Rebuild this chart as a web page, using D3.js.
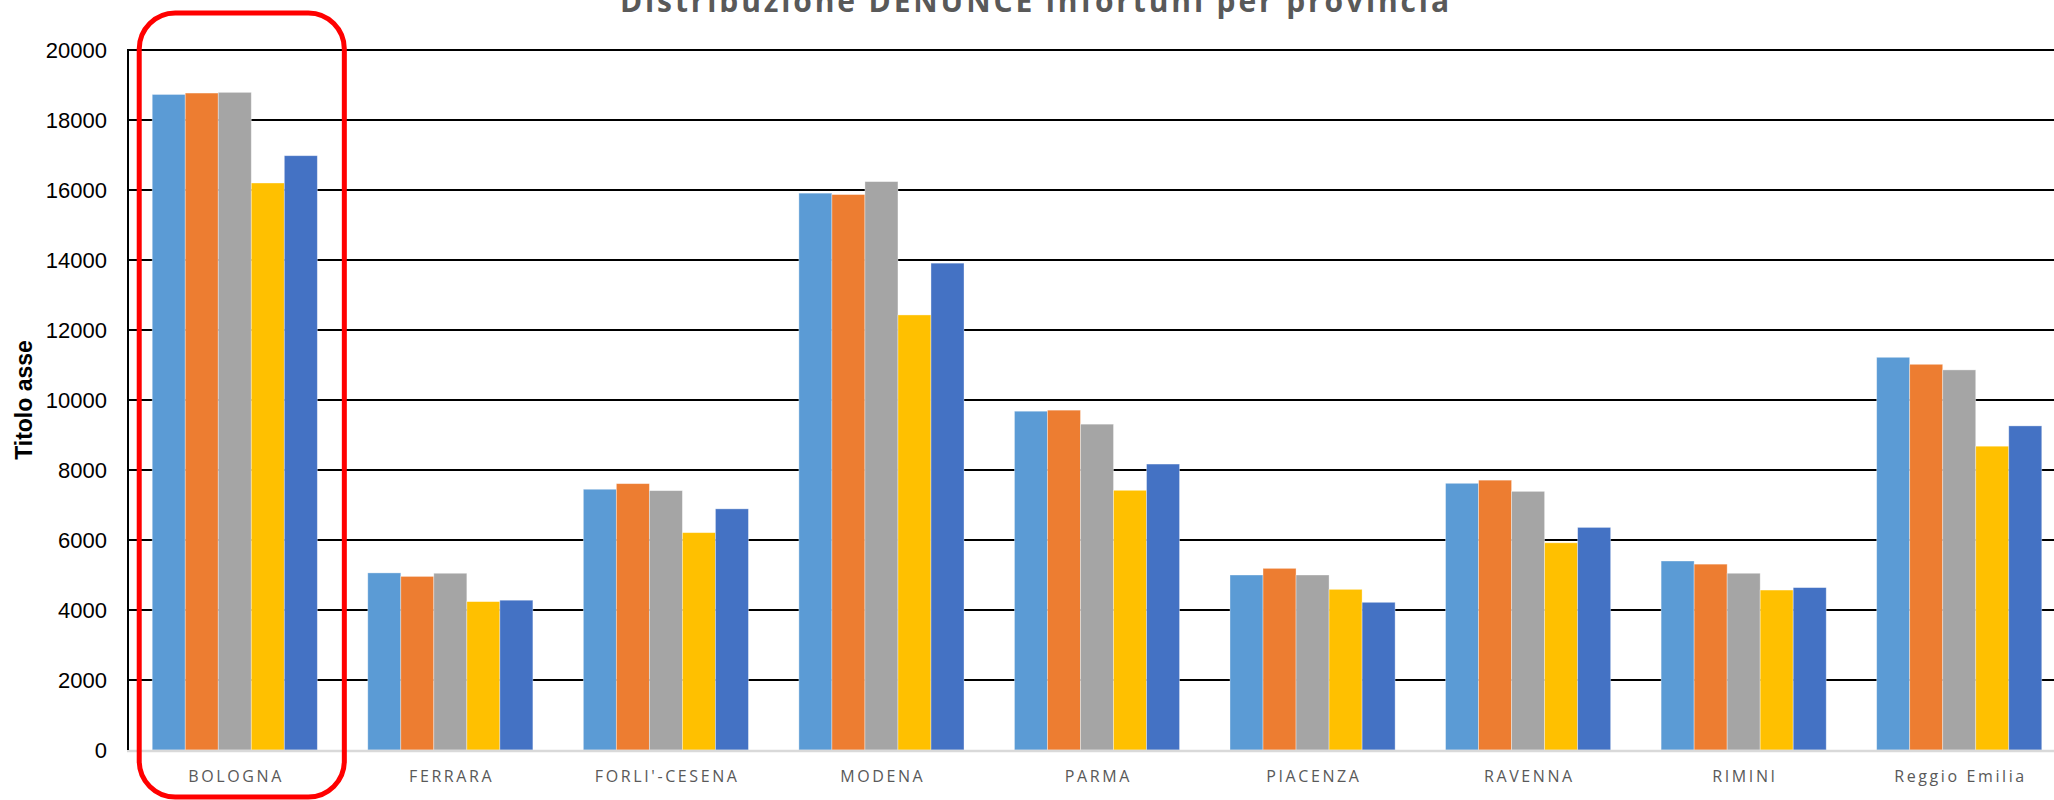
<!DOCTYPE html>
<html>
<head>
<meta charset="utf-8">
<script src="https://d3js.org/d3.v7.min.js"></script>
<style>
  html, body { margin: 0; padding: 0; background: #fff; overflow: hidden; }
  svg { display: block; }
</style>
</head>
<body>
<svg id="chart" width="2054" height="800"></svg>
<script>
// ---- data ----
const categories = ["BOLOGNA", "FERRARA", "FORLI'-CESENA", "MODENA", "PARMA", "PIACENZA", "RAVENNA", "RIMINI", "Reggio Emilia"];
const seriesNames = ["Serie1", "Serie2", "Serie3", "Serie4", "Serie5"];
const serie1 = [18730, 5060, 7450, 15910, 9680, 5000, 7620, 5400, 11220];
const serie2 = [18770, 4960, 7610, 15870, 9710, 5190, 7710, 5310, 11020];
const serie3 = [18790, 5050, 7410, 16240, 9310, 5000, 7390, 5050, 10860];
const serie4 = [16200, 4240, 6210, 12430, 7420, 4590, 5920, 4570, 8680];
const serie5 = [16980, 4280, 6890, 13910, 8170, 4220, 6360, 4640, 9260];
const yTicks = [0, 2000, 4000, 6000, 8000, 10000, 12000, 14000, 16000, 18000, 20000];
const colors = ["#5B9BD5", "#ED7D31", "#A5A5A5", "#FFC000", "#4472C4"];
const titleText = "Distribuzione DENUNCE infortuni per provincia";
const yTitle = "Titolo asse";
const highlighted = "BOLOGNA";

const allSeries = [serie1, serie2, serie3, serie4, serie5];

// ---- layout ----
const svg = d3.select("#chart");
const plot = { left: 127, right: 2067, top: 50, bottom: 750 };

const x = d3.scaleBand()
  .domain(categories)
  .range([plot.left, plot.right])
  .paddingInner(0.234)
  .paddingOuter(0.117);

const xs = d3.scaleBand()
  .domain(seriesNames)
  .range([0, x.bandwidth()]);

const y = d3.scaleLinear()
  .domain([0, 20000])
  .range([plot.bottom, plot.top]);

// gridlines
svg.append("g")
  .selectAll("line")
  .data(yTicks.filter(d => d > 0))
  .join("line")
  .attr("x1", plot.left)
  .attr("x2", 2054)
  .attr("y1", d => y(d))
  .attr("y2", d => y(d))
  .attr("stroke", "#000")
  .attr("stroke-width", 1.8);

// bars
const groups = svg.append("g")
  .selectAll("g")
  .data(categories)
  .join("g")
  .attr("transform", d => `translate(${x(d)},0)`);

groups.selectAll("rect")
  .data((c, i) => allSeries.map((s, k) => ({ name: seriesNames[k], value: s[i], k })))
  .join("rect")
  .attr("x", d => xs(d.name))
  .attr("y", d => y(d.value))
  .attr("width", xs.bandwidth())
  .attr("height", d => y(0) - y(d.value))
  .attr("fill", d => colors[d.k])
  .attr("stroke", "#ffffff")
  .attr("stroke-opacity", 0.45)
  .attr("stroke-width", 0.8);

// x baseline (light gray)
svg.append("line")
  .attr("x1", plot.left)
  .attr("x2", 2054)
  .attr("y1", y(0) + 1)
  .attr("y2", y(0) + 1)
  .attr("stroke", "#d9d9d9")
  .attr("stroke-width", 2.5);

// y axis line
svg.append("line")
  .attr("x1", plot.left + 1)
  .attr("x2", plot.left + 1)
  .attr("y1", y(20000) - 1)
  .attr("y2", y(0))
  .attr("stroke", "#000")
  .attr("stroke-width", 2);

// y tick labels
const yAxis = d3.axisLeft(y).tickValues(yTicks).tickSize(0).tickPadding(20).tickFormat(d3.format("d"));
const yg = svg.append("g")
  .attr("transform", `translate(${plot.left},0)`)
  .call(yAxis);
yg.select(".domain").remove();
yg.selectAll("text")
  .attr("font-family", "'Liberation Sans', Arial, sans-serif")
  .attr("font-size", 22)
  .attr("fill", "#000");

// x category labels
const xAxis = d3.axisBottom(x).tickSize(0).tickPadding(0);
const xg = svg.append("g")
  .attr("transform", `translate(0,${plot.bottom})`)
  .call(xAxis);
xg.select(".domain").remove();
xg.selectAll("text")
  .attr("font-family", "'Open Sans', sans-serif")
  .attr("font-size", 16)
  .attr("fill", "#595959")
  .attr("letter-spacing", "2.6px")
  .attr("dy", 0)
  .attr("dx", 1.3)
  .attr("y", 32);

// y axis title
svg.append("text")
  .attr("transform", `translate(32,${(plot.top + plot.bottom) / 2}) rotate(-90)`)
  .attr("text-anchor", "middle")
  .attr("font-family", "'Liberation Sans', Arial, sans-serif")
  .attr("font-weight", "bold")
  .attr("font-size", 23)
  .attr("fill", "#000")
  .text(yTitle);

// chart title (cut at top as in the reference)
svg.append("text")
  .attr("x", 620)
  .attr("y", 12)
  .attr("textLength", 829)
  .attr("lengthAdjust", "spacing")
  .attr("font-family", "'Open Sans', sans-serif")
  .attr("font-weight", "bold")
  .attr("font-size", 30)
  .attr("fill", "#595959")
  .text(titleText);

// red highlight box around the highlighted category
svg.append("rect")
  .attr("x", x(highlighted) - 13)
  .attr("y", 13)
  .attr("width", x.bandwidth() + 40)
  .attr("height", 784)
  .attr("rx", 36)
  .attr("ry", 36)
  .attr("fill", "none")
  .attr("stroke", "#ff0000")
  .attr("stroke-width", 5);
</script>
</body>
</html>
